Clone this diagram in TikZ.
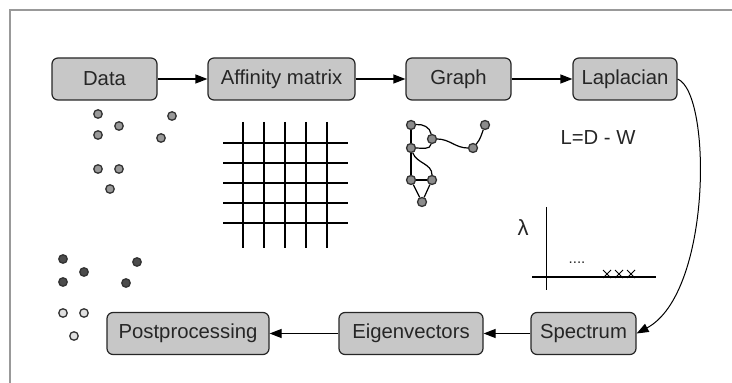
\documentclass[tikz,border=0pt]{standalone}
\usepackage{fontspec}
\setmainfont{Liberation Sans}
\usetikzlibrary{arrows.meta}

\begin{document}
\begin{tikzpicture}[x=1pt,y=1pt,
    stage/.style={draw=black!85,line width=1.2pt,rounded corners=6pt,fill=black!22,
      minimum height=42pt,inner sep=0pt,text=black!85,font=\fontsize{20.3}{24}\selectfont},
    flow/.style={line width=1.2pt,-{Triangle[length=12pt,width=9pt]}},
    pt/.style={circle,draw=black!80,line width=1.3pt,fill=black!40,minimum size=8.5pt,inner sep=0pt},
    lbl/.style={text=black!85,font=\fontsize{20.3}{24}\selectfont}]
  \useasboundingbox (0,0) rectangle (732,383);
  \draw[black!40,line width=1.5pt] (10,0) |- (732,373);

  \node[stage,minimum width=105pt] (data) at (104.5,304) {Data};
  \node[stage,minimum width=147pt] (aff) at (281.5,304) {Affinity matrix};
  \node[stage,minimum width=105pt] (graph) at (458.5,304) {Graph};
  \node[stage,minimum width=104pt] (lap) at (625,304) {Laplacian};
  \node[stage,minimum width=105pt] (spec) at (583.5,49.5) {Spectrum};
  \node[stage,minimum width=144pt] (eig) at (411,49.5) {Eigenvectors};
  \node[stage,minimum width=162pt] (post) at (188,49.5) {Postprocessing};

  \draw[flow] (data) -- (aff);
  \draw[flow] (aff) -- (graph);
  \draw[flow] (graph) -- (lap);
  \draw[flow,line width=1pt] (lap.east) .. controls (712,290) and (712,90) .. (spec.east);
  \draw[flow] (spec) -- (eig);
  \draw[flow] (eig) -- (post);

  \foreach \x/\y in {98/269,119/257,98/248,172/267,161/245,98/214,119/214,110/194}
    \node[pt] at (\x,\y) {};
  \foreach \x/\y in {63/124,84/111,63/101,137/121,126/100}
    \node[pt,fill=black!70] at (\x,\y) {};
  \foreach \x/\y in {63/70,84/70,74/47}
    \node[pt,fill=black!12] at (\x,\y) {};

  \foreach \x in {243,264,285,306,327}
    \draw[line width=1.8pt] (\x,261) -- (\x,135);
  \foreach \y in {240,220,200,180,160}
    \draw[line width=1.8pt] (223,\y) -- (348,\y);

  \foreach \n/\x/\y in {a/411/258,b/432/244,c/411/235,d/473/235,e/485/258,f/411/203,g/432/203,h/422/181}
    \node[pt,minimum size=9pt,fill=black!45] (g\n) at (\x,\y) {};
  \begin{scope}[line width=1.2pt]
    \draw (ga) -- (gc);
    \draw (ga) to[out=5,in=100] (gb);
    \draw (gc) to[out=0,in=-100] (gb);
    \draw (gb) to[out=0,in=180] (gd);
    \draw (gd) to[out=50,in=-110] (ge);
    \draw (gc) -- (gf);
    \draw (gc) to[out=-70,in=90] (gg);
    \draw (gf) -- (gg);
    \draw (gf) -- (gh);
    \draw (gg) -- (gh);
  \end{scope}

  \node[lbl] (lapeq) at (598,245) {L=D - W};

  \node[lbl,font=\fontsize{22}{26}\selectfont] (lam) at (523,155) {λ};
  \draw[line width=1pt] (546,176) -- (546,93);
  \draw[line width=1.2pt] (532,106) -- (656,106);
  \node[lbl,anchor=base,font=\fontsize{15}{18}\selectfont] (dots) at (577,119) {....};
  \foreach \x in {607,619,631}
    \draw[line width=1pt] (\x-4,105) -- (\x+4,113) (\x-4,113) -- (\x+4,105);
\end{tikzpicture}
\end{document}
